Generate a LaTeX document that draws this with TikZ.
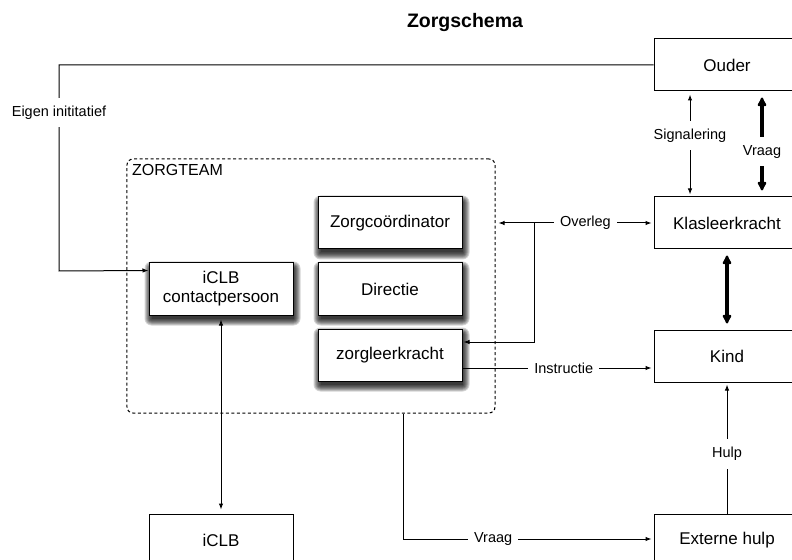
\documentclass[tikz,border=0pt]{standalone}
\usepackage{fontspec}
\setmainfont{Liberation Sans}
\usetikzlibrary{arrows.meta}
\tikzset{
  box/.style={draw, line width=1bp, fill=white, minimum width=144bp, minimum height=52bp,
    inner sep=0pt, align=center, font=\fontsize{17bp}{19bp}\selectfont},
  rbox/.style={box, minimum width=146bp},
  shadowlayer/.style={fill=black, opacity=0.17},
  team/.style={draw, line width=1bp, dash pattern=on 3bp off 2.5bp, rounded corners=6bp, minimum width=368bp, minimum height=254bp, inner sep=0pt},
  lbl/.style={fill=white, inner xsep=6bp, inner ysep=8bp, font=\fontsize{14.5bp}{16bp}\selectfont},
  conn/.style={line width=1bp},
  arr/.style={conn, -{Latex[length=6bp,width=4.5bp]}},
  darr/.style={conn, {Latex[length=6bp,width=4.5bp]}-{Latex[length=6bp,width=4.5bp]}},
  thick2/.style={line width=4bp, {Latex[length=11bp,width=11bp,round]}-{Latex[length=11bp,width=11bp,round]}},
}
\begin{document}
\begin{tikzpicture}[x=1bp,y=-1bp]
\useasboundingbox (0,0) rectangle (792,560);
\clip (0,0) rectangle (792,560);
\node[font=\bfseries\fontsize{19.5bp}{22bp}\selectfont] (title) at (465,23) {Zorgschema};

\node[team] (team) at (311,286) {};
\node[anchor=west, inner sep=0pt, font=\fontsize{16bp}{18bp}\selectfont] (teamlbl) at (132,170) {ZORGTEAM};

% blurred drop shadows
\foreach \cx/\cy in {390/223, 390/289, 390/355, 221/289} {
  \foreach \g in {-1,0,1,...,6} {
    \fill[shadowlayer, rounded corners=\g bp+1bp] (\cx-72-\g+1.5, \cy-26-\g+4.5) rectangle (\cx+72+\g+1.5, \cy+26+\g+4.5);
  }
}

\node[box] (zc) at (390,223) {Zorgcoördinator};
\node[box] (dir) at (390,289) {Directie};
\node[box] (zl) at (390,355) {zorgleerkracht};
\node[box] (clbc) at (221,289) {iCLB\\contactpersoon};
\node[box] (clb) at (221,540) {iCLB};

\node[rbox] (ouder) at (727,65) {Ouder};
\node[rbox] (klas) at (727,223) {Klasleerkracht};
\node[rbox] (kind) at (727,356) {Kind};
\node[rbox] (ext) at (727,540) {Externe hulp};

% Eigen initiatief
\draw[arr] (ouder.west) -- (59,65) -- node[lbl, pos=0.23] {Eigen inititatief} (59,271) -- ([yshift=-8bp]clbc.north west);

% Signalering
\draw[darr, shorten <=3bp, shorten >=2bp] ([xshift=-37bp]ouder.south) -- node[lbl, pos=0.42] {Signalering} ([xshift=-37bp]klas.north);
% Vraag (thick)
\draw[thick2, shorten <=6bp, shorten >=6bp] ([xshift=35bp]ouder.south) -- node[lbl, pos=0.575] {Vraag} ([xshift=35bp]klas.north);
% Klas - Kind
\draw[thick2, shorten <=6bp, shorten >=6bp] (klas.south) -- (kind.north);

% Overleg
\coordinate (ov) at (534,223);
\draw[arr, shorten >=3bp] (ov) -- (team.east |- ov);
\draw[arr, shorten >=2bp] (ov) -- node[lbl, pos=0.43] {Overleg} (klas.west);
\draw[arr, shorten >=1bp] (ov) |- ([yshift=13bp]zl.east);

% Instructie
\draw[arr, shorten >=2bp] ([yshift=-13bp]zl.east) -- node[lbl, pos=0.53] {Instructie} ([yshift=-13bp]zl.east -| kind.west);

% Hulp
\draw[arr, shorten >=2bp] (ext.north) -- node[lbl, pos=0.455] {Hulp} (kind.south);

% Vraag (bottom)
\draw[arr, shorten >=2bp] (team.south -| 403,0) |- node[lbl, pos=0.68] {Vraag} ([yshift=1bp]ext.west);

% iCLB
\draw[darr, shorten <=4bp, shorten >=4bp] (clbc.south) -- (clb.north);
\end{tikzpicture}
\end{document}
